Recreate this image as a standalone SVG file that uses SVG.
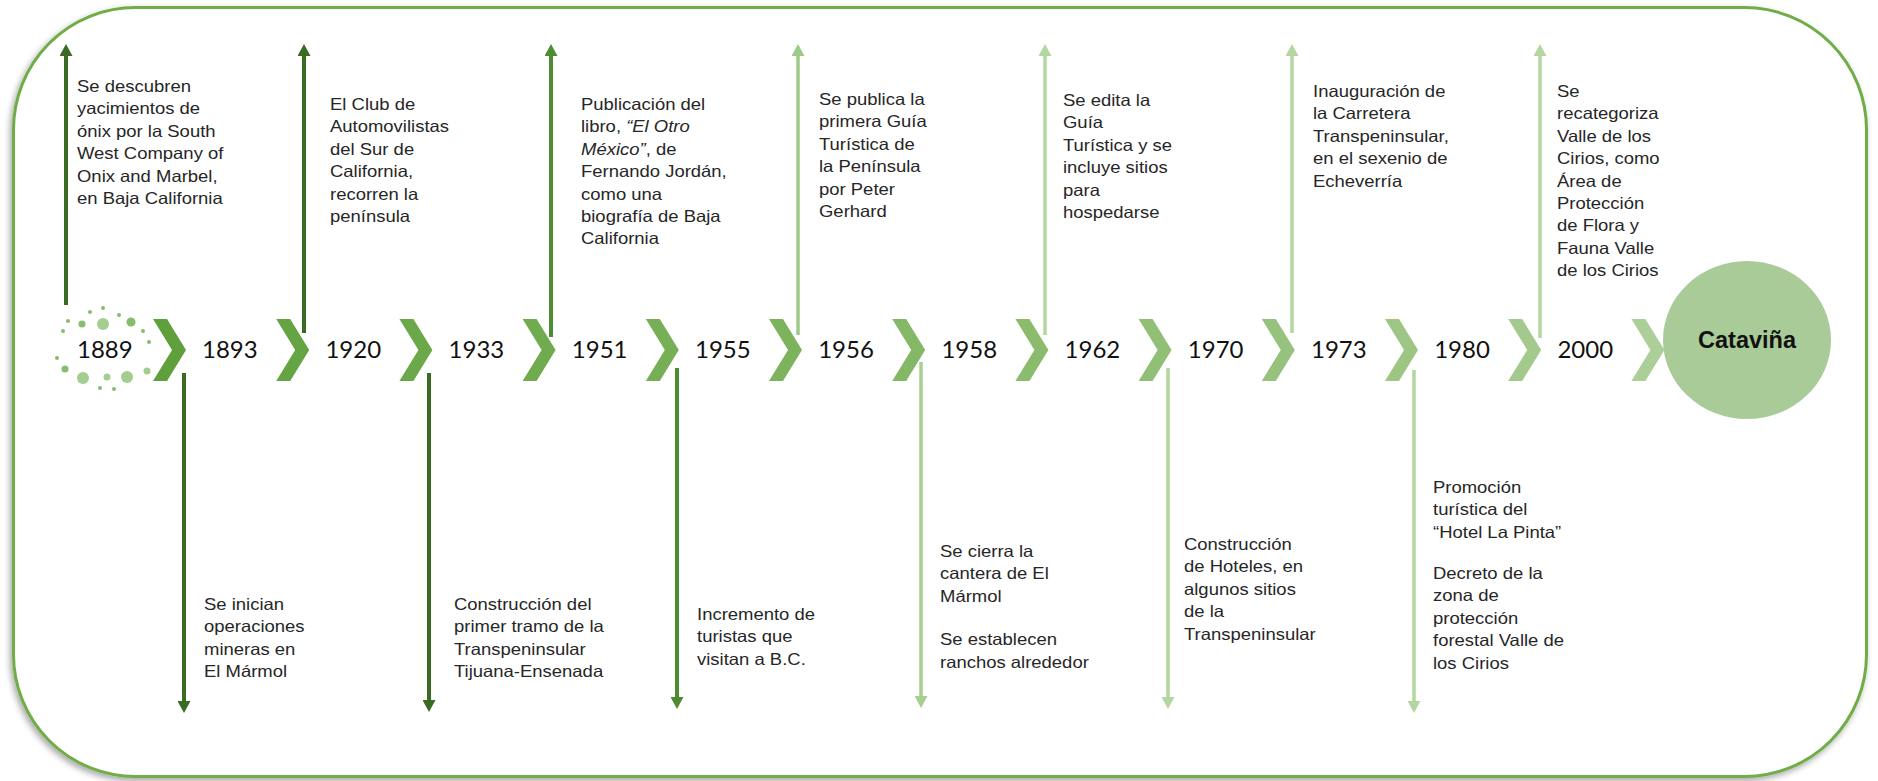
<svg xmlns="http://www.w3.org/2000/svg" width="1878" height="781" viewBox="0 0 1878 781">
  <defs>
    <style>
      .yr { font-family: "Lato", "Liberation Sans", sans-serif; font-size: 24px; fill: #111; }
      .t { font-family: "Liberation Sans", Arial, sans-serif; font-size: 16.5px; fill: #262626; }
      .it { font-style: italic; }
      .ln { fill: none; stroke-width: 4; }
      .lnl { fill: none; stroke-width: 3.5; }
      .dk { stroke: #3B6A23; }
      .md { stroke: #4E8C33; }
      .l1 { stroke: #9DCB87; }
      .l2 { stroke: #A6D090; }
      .l3 { stroke: #B3D7A1; }
      .dot { fill: #86BC6E; }
      .dotl { fill: #A4CD90; }
    </style>
    <filter id="shadow" x="-5%" y="-5%" width="110%" height="112%">
      <feDropShadow dx="-2" dy="3" stdDeviation="3" flood-color="#000" flood-opacity="0.35"/>
    </filter>
    <polygon id="chev" points="0,0 14,0 33,31 14,62 0,62 19,31"/>
    <marker id="aDk" viewBox="0 0 12 13" refX="4" refY="6.5" markerWidth="12" markerHeight="13" markerUnits="userSpaceOnUse" orient="auto"><path d="M0,0 L12,6.5 L0,13 z" fill="#3B6A23"/></marker>
    <marker id="aMd" viewBox="0 0 12 13" refX="4" refY="6.5" markerWidth="12" markerHeight="13" markerUnits="userSpaceOnUse" orient="auto"><path d="M0,0 L12,6.5 L0,13 z" fill="#4E8C33"/></marker>
    <marker id="aL1" viewBox="0 0 12 13" refX="4" refY="6.5" markerWidth="12" markerHeight="13" markerUnits="userSpaceOnUse" orient="auto"><path d="M0,0 L12,6.5 L0,13 z" fill="#9DCB87"/></marker>
    <marker id="aL2" viewBox="0 0 12 13" refX="4" refY="6.5" markerWidth="12" markerHeight="13" markerUnits="userSpaceOnUse" orient="auto"><path d="M0,0 L12,6.5 L0,13 z" fill="#A6D090"/></marker>
    <marker id="aL3" viewBox="0 0 12 13" refX="4" refY="6.5" markerWidth="12" markerHeight="13" markerUnits="userSpaceOnUse" orient="auto"><path d="M0,0 L12,6.5 L0,13 z" fill="#B3D7A1"/></marker>
  </defs>

  <rect x="0" y="0" width="1878" height="781" fill="#fff"/>
  <rect id="frame" x="13.5" y="7.5" width="1853" height="769" rx="122" ry="122" fill="#fff" stroke="#6FAD47" stroke-width="3" filter="url(#shadow)"/>

  <g id="connectors">
    <g id="chevrons">
      <use href="#chev" x="153" y="319" fill="#5FA03C"/>
      <use href="#chev" x="276.2" y="319" fill="#64A443"/>
      <use href="#chev" x="399.4" y="319" fill="#6AA849"/>
      <use href="#chev" x="522.6" y="319" fill="#70AB4F"/>
      <use href="#chev" x="645.8" y="319" fill="#77AF57"/>
      <use href="#chev" x="769" y="319" fill="#7EB35E"/>
      <use href="#chev" x="892.2" y="319" fill="#85B866"/>
      <use href="#chev" x="1015.4" y="319" fill="#8BBC6E"/>
      <use href="#chev" x="1138.6" y="319" fill="#91BF76"/>
      <use href="#chev" x="1261.8" y="319" fill="#97C27D"/>
      <use href="#chev" x="1385" y="319" fill="#9DC684"/>
      <use href="#chev" x="1508.2" y="319" fill="#A3C98C"/>
      <use href="#chev" x="1631.4" y="319" fill="#ACCE98"/>
    </g>
    <line class="ln dk" x1="66" y1="305" x2="66" y2="52" marker-end="url(#aDk)"/>
    <line class="ln dk" x1="184" y1="373" x2="184" y2="705" marker-end="url(#aDk)"/>
    <line class="ln dk" x1="304" y1="333" x2="304" y2="52" marker-end="url(#aDk)"/>
    <line class="ln dk" x1="429" y1="373" x2="429" y2="704" marker-end="url(#aDk)"/>
    <line class="ln md" x1="551" y1="337" x2="551" y2="52" marker-end="url(#aMd)"/>
    <line class="ln md" x1="677" y1="368" x2="677" y2="701" marker-end="url(#aMd)"/>
    <line class="lnl l1" x1="798" y1="335" x2="798" y2="52" marker-end="url(#aL1)"/>
    <line class="lnl l2" x1="921" y1="362" x2="921" y2="700" marker-end="url(#aL2)"/>
    <line class="lnl l3" x1="1045" y1="335" x2="1045" y2="52" marker-end="url(#aL3)"/>
    <line class="lnl l3" x1="1168" y1="368" x2="1168" y2="701" marker-end="url(#aL3)"/>
    <line class="lnl l3" x1="1292" y1="333" x2="1292" y2="52" marker-end="url(#aL3)"/>
    <line class="lnl l3" x1="1414" y1="370" x2="1414" y2="705" marker-end="url(#aL3)"/>
    <line class="lnl l3" x1="1540" y1="338" x2="1540" y2="52" marker-end="url(#aL3)"/>
  </g>

  <g id="n1889">
    <g id="dots">
      <circle class="dot" cx="103" cy="308" r="2"/>
      <circle class="dot" cx="90" cy="312" r="2"/>
      <circle class="dot" cx="119" cy="315" r="2"/>
      <circle class="dot" cx="68" cy="321" r="2"/>
      <circle class="dot" cx="82" cy="324" r="3.5"/>
      <circle class="dotl" cx="103" cy="324" r="6"/>
      <circle class="dot" cx="131" cy="322" r="4.5"/>
      <circle class="dot" cx="63" cy="331" r="2"/>
      <circle class="dot" cx="143" cy="331" r="2"/>
      <circle class="dot" cx="149" cy="342" r="2"/>
      <circle class="dot" cx="57" cy="358" r="2"/>
      <circle class="dot" cx="65" cy="369" r="3.5"/>
      <circle class="dotl" cx="83" cy="378" r="6"/>
      <circle class="dotl" cx="107" cy="377" r="3.5"/>
      <circle class="dotl" cx="127" cy="377" r="6"/>
      <circle class="dotl" cx="147" cy="371" r="3.5"/>
      <circle class="dot" cx="100" cy="388" r="2"/>
      <circle class="dot" cx="114" cy="389" r="2"/>
    </g>
    <text class="yr" x="77" y="358">1889</text>
    <text class="t" transform="translate(77,92) scale(1.12,1)"><tspan x="0" dy="0">Se descubren</tspan><tspan x="0" dy="22.4">yacimientos de</tspan><tspan x="0" dy="22.4">ónix por la South</tspan><tspan x="0" dy="22.4">West Company of</tspan><tspan x="0" dy="22.4">Onix and Marbel,</tspan><tspan x="0" dy="22.4">en Baja California</tspan></text>
  </g>

  <g id="n1893">
    <text class="yr" x="202" y="358">1893</text>
    <text class="t" transform="translate(204,610) scale(1.12,1)"><tspan x="0" dy="0">Se inician</tspan><tspan x="0" dy="22.4">operaciones</tspan><tspan x="0" dy="22.4">mineras en</tspan><tspan x="0" dy="22.4">El Mármol</tspan></text>
  </g>

  <g id="n1920">
    <text class="yr" x="325.4" y="358">1920</text>
    <text class="t" transform="translate(330,110) scale(1.12,1)"><tspan x="0" dy="0">El Club de</tspan><tspan x="0" dy="22.4">Automovilistas</tspan><tspan x="0" dy="22.4">del Sur de</tspan><tspan x="0" dy="22.4">California,</tspan><tspan x="0" dy="22.4">recorren la</tspan><tspan x="0" dy="22.4">península</tspan></text>
  </g>

  <g id="n1933">
    <text class="yr" x="448.6" y="358">1933</text>
    <text class="t" transform="translate(454,610) scale(1.12,1)"><tspan x="0" dy="0">Construcción del</tspan><tspan x="0" dy="22.4">primer tramo de la</tspan><tspan x="0" dy="22.4">Transpeninsular</tspan><tspan x="0" dy="22.4">Tijuana-Ensenada</tspan></text>
  </g>

  <g id="n1951">
    <text class="yr" x="571.8" y="358">1951</text>
    <text class="t" transform="translate(581,110) scale(1.12,1)"><tspan x="0" dy="0">Publicación del</tspan><tspan x="0" dy="22.4">libro, <tspan class="it">“El Otro</tspan></tspan><tspan x="0" dy="22.4"><tspan class="it">México”</tspan>, de</tspan><tspan x="0" dy="22.4">Fernando Jordán,</tspan><tspan x="0" dy="22.4">como una</tspan><tspan x="0" dy="22.4">biografía de Baja</tspan><tspan x="0" dy="22.4">California</tspan></text>
  </g>

  <g id="n1955">
    <text class="yr" x="695" y="358">1955</text>
    <text class="t" transform="translate(697,620) scale(1.12,1)"><tspan x="0" dy="0">Incremento de</tspan><tspan x="0" dy="22.4">turistas que</tspan><tspan x="0" dy="22.4">visitan a B.C.</tspan></text>
  </g>

  <g id="n1956">
    <text class="yr" x="818.2" y="358">1956</text>
    <text class="t" transform="translate(819,105) scale(1.12,1)"><tspan x="0" dy="0">Se publica la</tspan><tspan x="0" dy="22.4">primera Guía</tspan><tspan x="0" dy="22.4">Turística de</tspan><tspan x="0" dy="22.4">la Península</tspan><tspan x="0" dy="22.4">por Peter</tspan><tspan x="0" dy="22.4">Gerhard</tspan></text>
  </g>

  <g id="n1958">
    <text class="yr" x="941.4" y="358">1958</text>
    <text class="t" transform="translate(940,557) scale(1.12,1)"><tspan x="0" dy="0">Se cierra la</tspan><tspan x="0" dy="22.4">cantera de El</tspan><tspan x="0" dy="22.4">Mármol</tspan><tspan x="0" dy="43.6">Se establecen</tspan><tspan x="0" dy="22.4">ranchos alrededor</tspan></text>
  </g>

  <g id="n1962">
    <text class="yr" x="1064.6" y="358">1962</text>
    <text class="t" transform="translate(1063,106) scale(1.12,1)"><tspan x="0" dy="0">Se edita la</tspan><tspan x="0" dy="22.4">Guía</tspan><tspan x="0" dy="22.4">Turística y se</tspan><tspan x="0" dy="22.4">incluye sitios</tspan><tspan x="0" dy="22.4">para</tspan><tspan x="0" dy="22.4">hospedarse</tspan></text>
  </g>

  <g id="n1970">
    <text class="yr" x="1187.8" y="358">1970</text>
    <text class="t" transform="translate(1184,550) scale(1.12,1)"><tspan x="0" dy="0">Construcción</tspan><tspan x="0" dy="22.4">de Hoteles, en</tspan><tspan x="0" dy="22.4">algunos sitios</tspan><tspan x="0" dy="22.4">de la</tspan><tspan x="0" dy="22.4">Transpeninsular</tspan></text>
  </g>

  <g id="n1973">
    <text class="yr" x="1311" y="358">1973</text>
    <text class="t" transform="translate(1313,97) scale(1.12,1)"><tspan x="0" dy="0">Inauguración de</tspan><tspan x="0" dy="22.4">la Carretera</tspan><tspan x="0" dy="22.4">Transpeninsular,</tspan><tspan x="0" dy="22.4">en el sexenio de</tspan><tspan x="0" dy="22.4">Echeverría</tspan></text>
  </g>

  <g id="n1980">
    <text class="yr" x="1434.2" y="358">1980</text>
    <text class="t" transform="translate(1433,493) scale(1.12,1)"><tspan x="0" dy="0">Promoción</tspan><tspan x="0" dy="22.4">turística del</tspan><tspan x="0" dy="22.4">“Hotel La Pinta”</tspan><tspan x="0" dy="41.2">Decreto de la</tspan><tspan x="0" dy="22.4">zona de</tspan><tspan x="0" dy="22.4">protección</tspan><tspan x="0" dy="22.4">forestal Valle de</tspan><tspan x="0" dy="22.4">los Cirios</tspan></text>
  </g>

  <g id="n2000">
    <text class="yr" x="1557.4" y="358">2000</text>
    <text class="t" transform="translate(1557,97) scale(1.12,1)"><tspan x="0" dy="0">Se</tspan><tspan x="0" dy="22.4">recategoriza</tspan><tspan x="0" dy="22.4">Valle de los</tspan><tspan x="0" dy="22.4">Cirios, como</tspan><tspan x="0" dy="22.4">Área de</tspan><tspan x="0" dy="22.4">Protección</tspan><tspan x="0" dy="22.4">de Flora y</tspan><tspan x="0" dy="22.4">Fauna Valle</tspan><tspan x="0" dy="22.4">de los Cirios</tspan></text>
  </g>

  <g id="nCatavina">
    <ellipse cx="1747" cy="340" rx="84" ry="79" fill="#A9CB98"/>
    <text x="1747" y="348" text-anchor="middle" font-family="Liberation Sans, Arial, sans-serif" font-weight="bold" font-size="23.5" fill="#111">Cataviña</text>
  </g>
</svg>
